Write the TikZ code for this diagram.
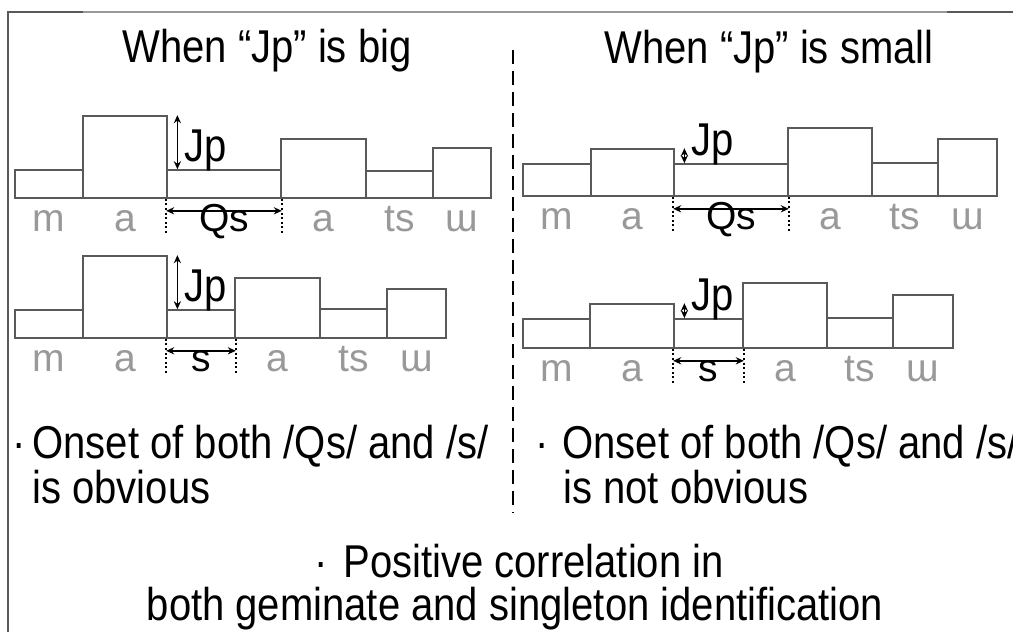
\documentclass[tikz,border=0pt]{standalone}
\usepackage{fontspec}
\setmainfont{Liberation Sans}[FakeStretch=0.87]
\newfontfamily\segfont{Liberation Sans}
\usetikzlibrary{arrows.meta,fit}

\begin{document}
\begin{tikzpicture}[
    x=0.5pt, y=-0.5pt,
    font=\fontsize{23pt}{22pt}\selectfont,
    bar/.style={draw=black!65, line width=0.8pt, inner sep=0pt},
    seg/.style={text=black!40, anchor=base, inner sep=0pt, font=\segfont\fontsize{19.5pt}{19.5pt}\selectfont},
    seglbl/.style={seg, text=black},
    lbl/.style={anchor=base, inner sep=0pt},
    txt/.style={anchor=base west, inner sep=0pt},
    tick/.style={line width=1pt, dash pattern=on 1pt off 1.3pt},
    len/.style={{Stealth[length=4pt,width=3.6pt]}-{Stealth[length=4pt,width=3.6pt]}, line width=0.7pt},
  ]
    \useasboundingbox (0,0) rectangle (1013,632);

    \draw[black!65, line width=1pt] (8,640) -- (8,11.5) -- (1020,11.5);
    \draw[black!40, line width=1pt] (83,11.5) -- (947,11.5);

    \node[lbl] (big) at (267,62) {When “Jp” is big};
    \node[lbl] (small) at (769,63) {When “Jp” is small};
    \draw[line width=0.8pt, dash pattern=on 7pt off 3.5pt] (513,50) -- (513,513);

    \foreach \n/\xa/\xb/\yt/\yb in {
        mA/15/83/170/198, aA/83/167/116/198, qA/167/281/170/198,
        bA/281/366/139/198, tA/366/433/171/198, uA/433/491/148/198,
        mB/15/83/310/338, aB/83/167/256/338, qB/167/235/310/338,
        bB/235/320/278/338, tB/320/387/309/338, uB/387/446/289/338,
        mC/523/591/164/196, aC/591/674/149/196, qC/674/788/164/196,
        bC/788/872/128/196, tC/872/938/163/196, uC/938/997/139/196,
        mD/523/590/319/348, aD/590/674/304/348, qD/674/743/319/348,
        bD/743/827/283/348, tD/827/893/318/348, uD/893/953/295/348}
      \node[bar, fit={(\xa,\yt) (\xb,\yb)}] (\n) {};

    \foreach \n/\t in {mA/m, aA/a, bA/a, tA/ts, uA/ɯ,
        mB/m, aB/a, bB/a, tB/ts, uB/ɯ,
        mC/m, aC/a, bC/a, tC/ts, uC/ɯ,
        mD/m, aD/a, bD/a, tD/ts, uD/ɯ}
      \node[seg] (\n-l) at ([yshift=-16.5pt]\n.south) {\t};

    \node[seglbl] (qA-l) at ([yshift=-16.5pt]qA.south) {Qs};
    \node[seglbl] (qB-l) at ([yshift=-16.5pt]qB.south) {s};
    \node[seglbl] (qC-l) at ([yshift=-16.5pt]qC.south) {Qs};
    \node[seglbl] (qD-l) at ([yshift=-16.5pt]qD.south) {s};

    \foreach \r in {A,B,C,D} {
      \coordinate (j\r) at (a\r.north east |- q\r.north);
      \draw[tick] (q\r.south west) -- ++(0,36);
      \draw[tick] (q\r.south east) -- ++(0,36);
      \draw[len] ([yshift=-6pt]q\r.south west) -- ([yshift=-6pt]q\r.south east);
      \draw[len] ([xshift=4.8pt]a\r.north east) -- ([xshift=4.8pt]j\r);
      \node[txt] (jp\r) at ([xshift=8pt,yshift=4pt]j\r) {Jp};
    }

    \node[txt] (onA) at (32,458) {\llap{\textperiodcentered\hspace{3.5pt}}Onset of both /Qs/ and /s/};
    \node[txt] (obA) at (32,503) {is obvious};
    \node[txt] (onB) at (562,458) {\llap{\textperiodcentered\hspace{7pt}}Onset of both /Qs/ and /s/};
    \node[txt] (obB) at (563,503) {is not obvious};
    \node[lbl] (pos) at (519,577) {\textperiodcentered\hspace{8pt}Positive correlation in};
    \node[lbl] (gem) at (515,620) {both geminate and singleton identification};
  \end{tikzpicture}
\end{document}
